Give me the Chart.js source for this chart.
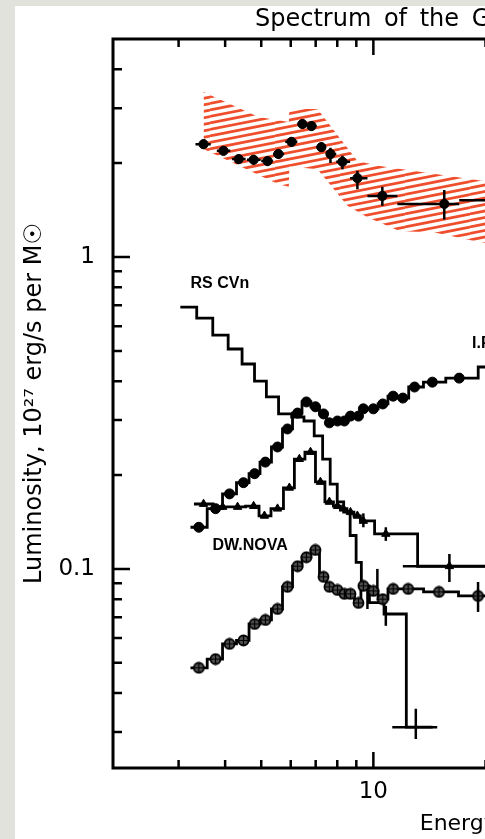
<!DOCTYPE html>
<html>
<head>
<meta charset="utf-8">
<script src="https://cdn.jsdelivr.net/npm/chart.js@4.4.1/dist/chart.umd.min.js"></script>
<style>
  html, body { margin: 0; padding: 0; overflow: hidden; background: #e2e2dd; }
  body { width: 485px; height: 839px; position: relative; }
  #sheet { position: absolute; left: 15px; top: 6px; width: 900px; height: 900px; background: #fff; }
  #spectrum { position: absolute; left: 0; top: 0; }
</style>
</head>
<body>
<div id="sheet"><canvas id="spectrum" width="856" height="833"></canvas></div>
<script>
// ridge emission points (keV, 1e27 erg/s per Msun) with error bars
var grxeE   = [3.50, 3.96, 4.35, 4.77, 5.20, 5.56, 6.03, 6.45, 6.82, 7.25, 7.67, 8.26, 9.06, 10.57, 15.5, 22.0];
var grxeL   = [2.30, 2.19, 2.06, 2.05, 2.03, 2.14, 2.34, 2.67, 2.63, 2.25, 2.14, 2.02, 1.79, 1.57, 1.48, 1.52];
var grxeLo  = [2.22, 2.12, 1.99, 1.98, 1.96, 2.07, 2.26, 2.58, 2.54, 2.17, 2.00, 1.91, 1.65, 1.46, 1.32, 1.38];
var grxeHi  = [2.38, 2.26, 2.13, 2.12, 2.10, 2.21, 2.42, 2.76, 2.72, 2.33, 2.24, 2.11, 1.89, 1.68, 1.64, 1.66];
var grxeElo = [3.33, 3.80, 4.17, 4.58, 5.00, 5.38, 5.80, 6.25, 6.64, 7.04, 7.46, 7.95, 8.66, 9.64, 11.6, 17.0];
var grxeEhi = [3.66, 4.13, 4.54, 4.98, 5.38, 5.76, 6.25, 6.64, 7.04, 7.46, 7.95, 8.66, 9.64, 11.6, 17.0, 28.0];

// hatched band round the ridge spectrum
var bandUpE = [3.50, 4.92, 5.93, 5.95, 7.08, 9.06, 10.3, 14.5, 20.0, 30.0];
var bandUp  = [3.38, 2.81, 2.71, 2.98, 2.98, 2.03, 1.96, 1.85, 1.75, 1.62];
var bandLoE = [3.50, 5.56, 5.93, 5.95, 7.08, 8.52, 9.64, 11.8, 14.5, 19.1, 30.0];
var bandLo  = [2.22, 1.71, 1.68, 1.95, 1.91, 1.46, 1.34, 1.21, 1.20, 1.12, 1.02];

// intermediate polars
var ipE = [3.40, 3.77, 4.11, 4.48, 4.80, 5.13, 5.53, 5.88, 6.26, 6.61, 6.99, 7.35, 7.62, 8.01, 8.36, 8.68, 9.12, 9.40, 10.0, 10.6, 11.3, 12.0, 12.9, 14.4, 17.0, 21.5, 27.0];
var ipL = [0.136, 0.156, 0.174, 0.189, 0.202, 0.220, 0.246, 0.281, 0.316, 0.343, 0.331, 0.314, 0.294, 0.298, 0.298, 0.309, 0.309, 0.326, 0.326, 0.338, 0.358, 0.353, 0.383, 0.397, 0.409, 0.444, 0.46];

// dwarf novae
var dnE = [3.40, 3.77, 4.11, 4.48, 4.80, 5.13, 5.53, 5.88, 6.26, 6.61, 6.99, 7.35, 7.62, 8.01, 8.36, 8.68, 9.12, 9.40, 10.0, 10.6, 11.3, 12.4, 15.0, 19.1, 24.0];
var dnL = [0.0482, 0.0514, 0.0575, 0.059, 0.0666, 0.0686, 0.0744, 0.0876, 0.102, 0.109, 0.115, 0.0943, 0.0876, 0.0856, 0.0832, 0.0832, 0.0778, 0.0882, 0.085, 0.080, 0.0863, 0.0863, 0.0844, 0.0819, 0.078];
var dnErrE  = [9.64, 10.25, 19.1];
var dnErrL  = [0.080, 0.093, 0.0819];
var dnErrLo = [0.0744, 0.0863, 0.0728];
var dnErrHi = [0.0863, 0.100, 0.0908];

// triangles
var triE = [3.50, 3.94, 4.32, 4.77, 5.10, 5.53, 5.95, 6.33, 6.78, 7.21, 7.62, 8.01, 8.31, 8.68, 9.06, 9.40, 10.8, 16.0, 27.0];
var triL = [0.1615, 0.158, 0.158, 0.159, 0.148, 0.156, 0.182, 0.225, 0.237, 0.190, 0.164, 0.159, 0.156, 0.152, 0.148, 0.1425, 0.1295, 0.102, 0.092];
var triErrE   = [9.40, 10.8, 16.0];
var triErrL   = [0.1425, 0.1295, 0.102];
var triErrLo  = [0.136, 0.123, 0.0908];
var triErrHi  = [0.1507, 0.136, 0.1117];
var triErrElo = [null, null, 12.0];
var triErrEhi = [null, null, 24.0];

// RS CVn
var rsE = [3.19, 3.53, 3.89, 4.27, 4.62, 4.98, 5.35, 5.79, 6.29, 6.74, 7.14, 7.48, 7.84, 8.16, 8.49, 8.84, 9.14, 9.43, 10.1, 11.3, 13.3];
var rsL = [0.691, 0.637, 0.562, 0.507, 0.454, 0.400, 0.356, 0.314, 0.307, 0.298, 0.267, 0.225, 0.187, 0.164, 0.152, 0.128, 0.105, 0.088, 0.078, 0.0717, 0.0311];
var rsErrE   = [10.8, 13.0];
var rsErrL   = [0.0711, 0.0311];
var rsErrLo  = [0.0657, 0.0285];
var rsErrHi  = [0.0761, 0.0356];
var rsErrElo = [null, 11.24];
var rsErrEhi = [null, 14.84];

var labelText = ["RS CVn", "DW.NOVA", "I.P."];
var labelE = [3.23, 3.70, 18.4];
var labelL = [0.82, 0.119, 0.526];

var xMajor = [10, 100];
var xMinor = [3, 4, 5, 6, 7, 8, 9, 20, 30, 40, 50, 60, 70, 80, 90];
var yMajor = [0.1, 1];
var yMinor = [0.03, 0.04, 0.05, 0.06, 0.07, 0.08, 0.09, 0.2, 0.3, 0.4, 0.5, 0.6, 0.7, 0.8, 0.9, 2, 3, 4];

var FONT = "'DejaVu Sans', sans-serif";
Chart.defaults.font.family = FONT;
Chart.defaults.color = "#000";

var canvas = document.getElementById("spectrum");
var ctx = canvas.getContext("2d");

function points(E, L) {
  return E.map(function (e, i) { return { x: e, y: L[i] }; });
}

// histogram: centres plus half a bin at each end
function histo(E, L) {
  var n = E.length;
  var first = E[0] * Math.sqrt(E[0] / E[1]);
  var last = E[n - 1] * Math.sqrt(E[n - 1] / E[n - 2]);
  return [{ x: first, y: L[0] }].concat(points(E, L), [{ x: last, y: L[n - 1] }]);
}

function endless(r) {
  return function (c) {
    var n = c.dataset.data.length;
    return c.dataIndex === 0 || c.dataIndex === n - 1 ? 0 : r;
  };
}

function makeHatch() {
  var c = document.createElement("canvas");
  c.width = 65;
  c.height = 13;
  var g = c.getContext("2d");
  g.strokeStyle = "#ef4e2c";
  g.lineWidth = 2.7;
  for (var k = -2; k <= 4; k++) {
    var y0 = k * 6.5;
    g.beginPath();
    g.moveTo(0, y0 + 13);
    g.lineTo(65, y0);
    g.stroke();
  }
  return ctx.createPattern(c, "repeat");
}

function makeOplus() {
  var c = document.createElement("canvas");
  c.width = 13;
  c.height = 13;
  var g = c.getContext("2d");
  g.beginPath();
  g.arc(6.5, 6.5, 5, 0, Math.PI * 2);
  g.fillStyle = "#505050";
  g.fill();
  g.lineWidth = 1.8;
  g.strokeStyle = "#000";
  g.stroke();
  g.lineWidth = 1.2;
  g.beginPath();
  g.moveTo(1.5, 6.5); g.lineTo(11.5, 6.5);
  g.moveTo(6.5, 1.5); g.lineTo(6.5, 11.5);
  g.stroke();
  return c;
}

var errSets = [
  { e: grxeE, l: grxeL, lo: grxeLo, hi: grxeHi, elo: grxeElo, ehi: grxeEhi },
  { e: dnErrE, l: dnErrL, lo: dnErrLo, hi: dnErrHi },
  { e: triErrE, l: triErrL, lo: triErrLo, hi: triErrHi, elo: triErrElo, ehi: triErrEhi },
  { e: rsErrE, l: rsErrL, lo: rsErrLo, hi: rsErrHi, elo: rsErrElo, ehi: rsErrEhi }
];

var errorBars = {
  id: "errorBars",
  afterDatasetsDraw: function (chart) {
    var c = chart.ctx, xs = chart.scales.x, ys = chart.scales.y, a = chart.chartArea;
    c.save();
    c.beginPath();
    c.rect(a.left, a.top, a.right - a.left, a.bottom - a.top);
    c.clip();
    c.strokeStyle = "#000";
    c.lineWidth = 2.5;
    errSets.forEach(function (s) {
      s.e.forEach(function (e, i) {
        var px = xs.getPixelForValue(e), py = ys.getPixelForValue(s.l[i]);
        c.beginPath();
        if (s.lo[i] != null) {
          c.moveTo(px, ys.getPixelForValue(s.lo[i]));
          c.lineTo(px, ys.getPixelForValue(s.hi[i]));
        }
        if (s.elo && s.elo[i] != null) {
          c.moveTo(xs.getPixelForValue(s.elo[i]), py);
          c.lineTo(xs.getPixelForValue(s.ehi[i]), py);
        }
        c.stroke();
      });
    });
    c.restore();
  }
};

var frameAndText = {
  id: "frameAndText",
  afterDraw: function (chart) {
    var c = chart.ctx, xs = chart.scales.x, ys = chart.scales.y, a = chart.chartArea;
    c.save();
    c.strokeStyle = "#000";
    c.lineWidth = 2.5;
    c.beginPath();
    xMinor.concat(xMajor).forEach(function (v) {
      var len = xMajor.indexOf(v) >= 0 ? 16 : 8;
      var px = xs.getPixelForValue(v);
      c.moveTo(px, a.bottom); c.lineTo(px, a.bottom - len);
      c.moveTo(px, a.top); c.lineTo(px, a.top + len);
    });
    yMinor.concat(yMajor).forEach(function (v) {
      var len = yMajor.indexOf(v) >= 0 ? 17 : 9;
      var py = ys.getPixelForValue(v);
      c.moveTo(a.left, py); c.lineTo(a.left + len, py);
      c.moveTo(a.right, py); c.lineTo(a.right - len, py);
    });
    c.stroke();
    c.lineWidth = 3;
    c.strokeRect(a.left, a.top, a.right - a.left, a.bottom - a.top);

    c.fillStyle = "#000";
    c.font = "bold 16px 'Liberation Sans', sans-serif";
    c.textAlign = "left";
    c.textBaseline = "middle";
    labelText.forEach(function (t, i) {
      c.fillText(t, xs.getPixelForValue(labelE[i]), ys.getPixelForValue(labelL[i]));
    });

    c.font = "24px " + FONT;
    c.textBaseline = "alphabetic";
    c.wordSpacing = "5px";
    c.fillText("Spectrum of the Galactic Ridge", 240, 20);
    c.restore();
  }
};

var lineStyle = {
  borderColor: "#000",
  borderWidth: 2.8,
  stepped: "middle",
  fill: false,
  pointBackgroundColor: "#000",
  pointBorderColor: "#000",
  pointBorderWidth: 1
};

new Chart(canvas, {
  type: "line",
  data: {
    datasets: [
      {
        label: "Galactic ridge",
        data: points(grxeE, grxeL),
        showLine: false,
        pointRadius: 4.6,
        pointBackgroundColor: "#000",
        pointBorderColor: "#000"
      },
      Object.assign({}, lineStyle, {
        label: "I.P.",
        data: histo(ipE, ipL),
        pointRadius: endless(5)
      }),
      Object.assign({}, lineStyle, {
        label: "DW.NOVA",
        data: histo(dnE, dnL),
        pointStyle: makeOplus(),
        pointRadius: endless(6)
      }),
      Object.assign({}, lineStyle, {
        label: "Triangles",
        data: histo(triE, triL),
        pointStyle: "triangle",
        pointRadius: endless(4.8)
      }),
      Object.assign({}, lineStyle, {
        label: "RS CVn",
        data: histo(rsE, rsL),
        pointRadius: 0
      }),
      {
        label: "band low",
        data: points(bandLoE, bandLo),
        borderColor: "rgba(0,0,0,0)",
        borderWidth: 0,
        pointRadius: 0,
        fill: false
      },
      {
        label: "band high",
        data: points(bandUpE, bandUp),
        borderColor: "rgba(0,0,0,0)",
        borderWidth: 0,
        pointRadius: 0,
        backgroundColor: makeHatch(),
        fill: "-1"
      }
    ]
  },
  options: {
    responsive: false,
    animation: false,
    devicePixelRatio: 1,
    layout: { padding: { left: 0, top: 33, right: 13, bottom: 0 } },
    plugins: {
      legend: { display: false },
      tooltip: { enabled: false },
      title: { display: false }
    },
    scales: {
      x: {
        type: "logarithmic",
        min: 2,
        max: 200,
        bounds: "data",
        grid: { display: false, drawTicks: false },
        border: { display: false },
        afterBuildTicks: function (s) {
          s.ticks = xMajor.map(function (v) { return { value: v, major: true }; });
        },
        afterFit: function (s) { s.height = 71; },
        ticks: {
          padding: 10,
          autoSkip: false,
          maxRotation: 0,
          font: { size: 23 },
          callback: function (v) { return String(v); }
        },
        title: {
          display: true,
          text: "Energy, keV",
          font: { size: 22 },
          padding: { top: 0, bottom: 2 }
        }
      },
      y: {
        type: "logarithmic",
        min: 0.023,
        max: 5,
        bounds: "data",
        grid: { display: false, drawTicks: false },
        border: { display: false },
        afterBuildTicks: function (s) {
          s.ticks = yMajor.map(function (v) { return { value: v, major: true }; });
        },
        afterFit: function (s) { s.width = 98; },
        ticks: {
          padding: 18,
          autoSkip: false,
          font: { size: 23 },
          callback: function (v) { return String(v); }
        },
        title: {
          display: true,
          text: "Luminosity, 10\u00b2\u2077 erg/s per M\u2609",
          font: { size: 24 },
          padding: { top: 5, bottom: 0 }
        }
      }
    }
  },
  plugins: [errorBars, frameAndText]
});
</script>
</body>
</html>
